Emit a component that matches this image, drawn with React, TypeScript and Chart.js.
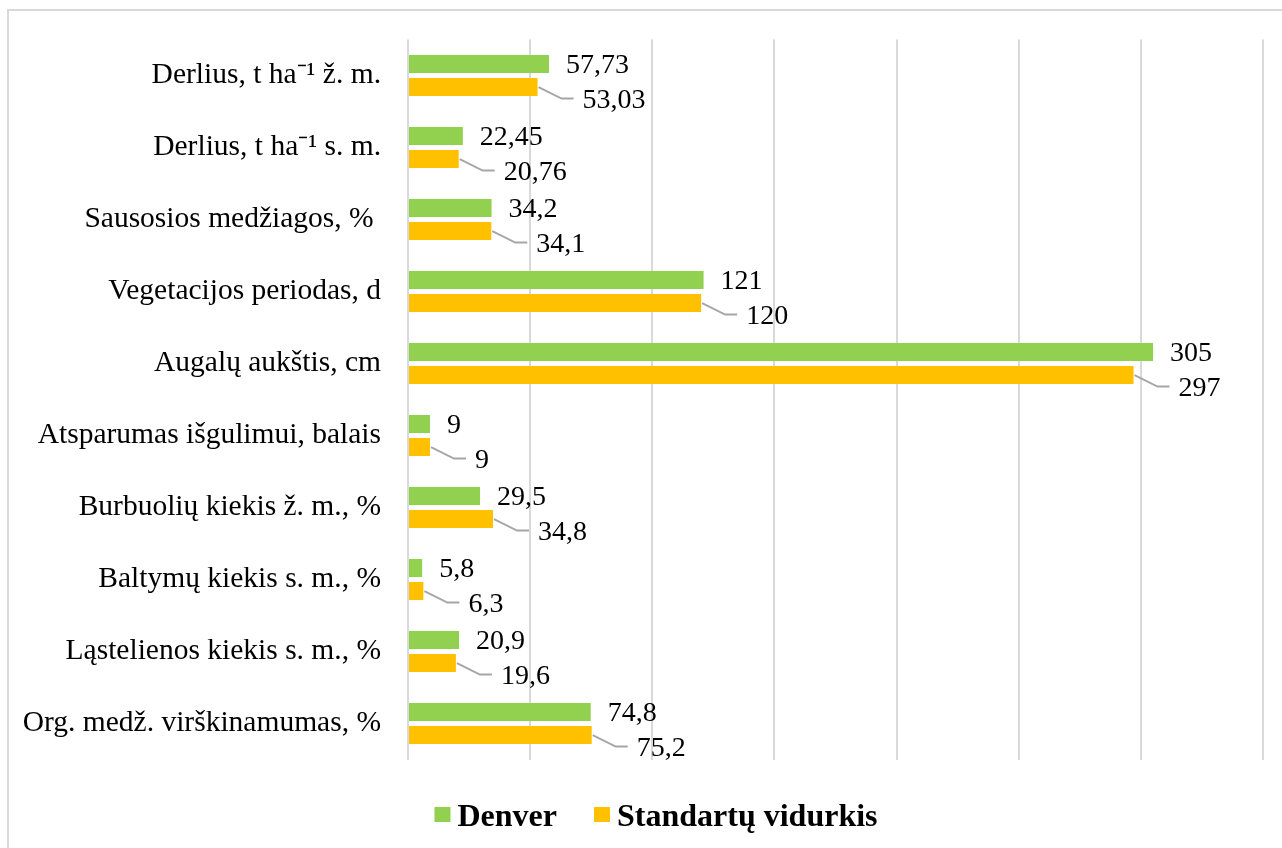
import React, { useEffect, useRef } from "react";
import { Chart, registerables } from "chart.js";

Chart.register(...registerables);

const categories = [
  "Derlius, t ha⁻¹ ž. m.",
  "Derlius, t ha⁻¹ s. m.",
  "Sausosios medžiagos, % ",
  "Vegetacijos periodas, d",
  "Augalų aukštis, cm",
  "Atsparumas išgulimui, balais",
  "Burbuolių kiekis ž. m., %",
  "Baltymų kiekis s. m., %",
  "Ląstelienos kiekis s. m., %",
  "Org. medž. virškinamumas, %",
];
const denver = [57.73, 22.45, 34.2, 121, 305, 9, 29.5, 5.8, 20.9, 74.8];
const standard = [53.03, 20.76, 34.1, 120, 297, 9, 34.8, 6.3, 19.6, 75.2];
const seriesNames = ["Denver", "Standartų vidurkis"];
const seriesColors = ["#92D050", "#FFC000"];
const xMin = 0;
const xMax = 350;
const xStep = 50;

const FONT = '"Liberation Serif", "Times New Roman", serif';
const fmt = (v: number) => String(v).replace(".", ",");

const borderPlugin = {
  id: "outerBorder",
  beforeDraw(chart: any) {
    const ctx = chart.ctx;
    ctx.save();
    ctx.fillStyle = "#ffffff";
    ctx.fillRect(0, 0, chart.width, chart.height);
    ctx.strokeStyle = "#d9d9d9";
    ctx.lineWidth = 2;
    ctx.strokeRect(8, 10, chart.width + 40, chart.height + 40);
    ctx.restore();
  },
};

const labelPlugin = {
  id: "valueLabels",
  afterDatasetsDraw(chart: any) {
    const ctx = chart.ctx;
    ctx.save();
    ctx.font = `28px ${FONT}`;
    ctx.fillStyle = "#000000";
    ctx.textAlign = "left";
    ctx.textBaseline = "alphabetic";
    const m0 = chart.getDatasetMeta(0);
    const m1 = chart.getDatasetMeta(1);
    m0.data.forEach((el: any, i: number) => {
      ctx.fillText(fmt(denver[i]), el.x + 17, el.y + 9);
    });
    m1.data.forEach((el: any, i: number) => {
      const tx = el.x + 45;
      const cy = el.y + 11.5;
      ctx.strokeStyle = "#a6a6a6";
      ctx.lineWidth = 2;
      ctx.beginPath();
      ctx.moveTo(el.x + 1, el.y);
      ctx.lineTo(tx - 21, cy);
      ctx.lineTo(tx - 9, cy);
      ctx.stroke();
      ctx.fillText(fmt(standard[i]), tx, cy + 9.5);
    });
    ctx.restore();
  },
};

const legendPlugin = {
  id: "customLegend",
  afterDraw(chart: any) {
    const ctx = chart.ctx;
    ctx.save();
    ctx.font = `bold 32px ${FONT}`;
    ctx.textBaseline = "alphabetic";
    ctx.textAlign = "left";
    const boxW = 16;
    const boxH = 15;
    const gapBox = 7;
    const gapItem = 37;
    const widths = seriesNames.map((n) => ctx.measureText(n).width);
    let total = 0;
    widths.forEach((w, i) => {
      total += boxW + gapBox + w + (i < widths.length - 1 ? gapItem : 0);
    });
    let x = 656 - total / 2;
    const boxTop = 807;
    const baseline = 826;
    seriesNames.forEach((n, i) => {
      ctx.fillStyle = seriesColors[i];
      ctx.fillRect(x, boxTop, boxW, boxH);
      x += boxW + gapBox;
      ctx.fillStyle = "#000000";
      ctx.fillText(n, x, baseline);
      x += widths[i] + gapItem;
    });
    ctx.restore();
  },
};

export default function App() {
  const ref = useRef<HTMLCanvasElement | null>(null);
  useEffect(() => {
    if (!ref.current) return;
    const chart = new Chart(ref.current, {
      type: "bar",
      data: {
        labels: categories,
        datasets: [
          {
            label: seriesNames[0],
            data: denver,
            backgroundColor: seriesColors[0],
            categoryPercentage: 0.64,
            barPercentage: 0.78,
          },
          {
            label: seriesNames[1],
            data: standard,
            backgroundColor: seriesColors[1],
            categoryPercentage: 0.64,
            barPercentage: 0.78,
          },
        ],
      },
      options: {
        indexAxis: "y",
        responsive: false,
        animation: false,
        layout: { padding: { top: 39.5, right: 19, bottom: 88.5, left: 0 } },
        plugins: {
          legend: { display: false },
          tooltip: { enabled: false },
        },
        scales: {
          x: {
            min: xMin,
            max: xMax,
            ticks: { display: false, stepSize: xStep },
            grid: { color: "#d9d9d9", lineWidth: 2, drawTicks: false },
            border: { display: false },
            afterFit(scale: any) {
              scale.height = 0;
              scale.paddingLeft = 0;
              scale.paddingRight = 0;
              scale.paddingTop = 0;
              scale.paddingBottom = 0;
            },
          },
          y: {
            grid: { display: false, drawTicks: false },
            border: { display: false },
            ticks: {
              color: "#000000",
              font: { family: FONT, size: 29.5 },
              padding: 27,
              autoSkip: false,
            },
            afterFit(scale: any) {
              scale.width = 408;
              scale.paddingTop = 0;
              scale.paddingBottom = 0;
              scale.paddingLeft = 0;
              scale.paddingRight = 0;
            },
          },
        },
      },
      plugins: [borderPlugin, labelPlugin, legendPlugin],
    });
    return () => chart.destroy();
  }, []);
  return (
    <div style={{ position: "fixed", left: 0, top: 0, width: 1282, height: 848, background: "#fff" }}>
      <canvas ref={ref} width={1282} height={848} style={{ display: "block" }} />
    </div>
  );
}
